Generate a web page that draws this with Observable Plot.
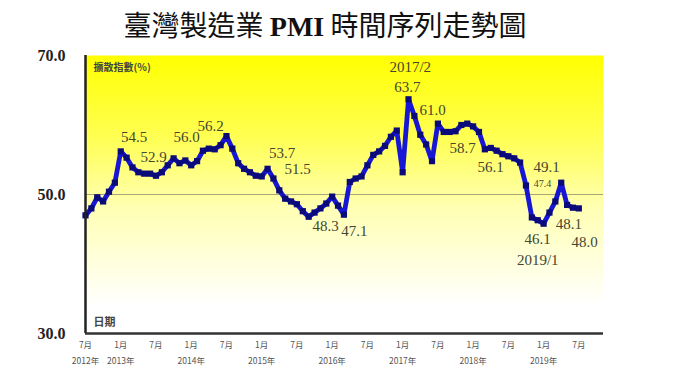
<!DOCTYPE html>
<html><head><meta charset="utf-8">
<script src="https://cdn.jsdelivr.net/npm/d3@7"></script>
<script src="https://cdn.jsdelivr.net/npm/@observablehq/plot@0.6"></script>
<style>
body{margin:0;background:#fff;width:680px;height:383px;overflow:hidden}
#title{height:40px;width:680px;position:relative}
#title .t{position:absolute;left:0;right:30px;top:7px;text-align:center;font-size:28px;line-height:34px;color:#111;font-family:"Noto Sans CJK TC",sans-serif}
#title b{font-family:"Liberation Serif",serif;font-weight:bold}
#chart svg{display:block}
</style></head><body>
<div id="title"><div class="t">臺灣製造業 <b>PMI</b> 時間序列走勢圖</div></div>
<div id="chart"></div>
<script>
// Monthly PMI, July 2012 (index 0) .. July 2019 (index 84)
const pmi = [
 47.0,48.0,49.6,49.0,50.4,51.7,
 56.2,55.3,53.9,53.2,53.0,53.0,52.7,53.2,54.2,55.2,54.5,54.9,
 54.2,54.8,56.3,56.6,56.5,57.1,58.4,56.6,54.5,53.7,53.2,52.7,
 52.6,53.7,52.3,50.6,49.4,49.0,48.6,47.6,46.8,47.4,48.0,48.7,
 49.7,48.4,47.1,51.8,52.3,52.6,54.2,55.7,56.2,57.0,58.3,59.2,
 53.2,63.7,61.3,58.6,57.2,54.8,60.2,59.0,59.0,59.1,60.0,60.2,
 59.8,59.0,56.5,56.7,56.3,55.8,55.5,55.2,54.6,51.3,46.7,46.3,
 45.8,47.4,49.0,51.7,48.5,48.1,48.0
];
const yTicks = [30, 50, 70];
const tickMonths = [0,6,12,18,24,30,36,42,48,54,60,66,72,78,84];
const tickLabels = ["7月","1月","7月","1月","7月","1月","7月","1月","7月","1月","7月","1月","7月","1月","7月"];
const yearMonths = [0,6,18,30,42,54,66,78];
const yearLabels = ["2012年","2013年","2014年","2015年","2016年","2017年","2018年","2019年"];
// annotations (month index, value position, text)
const labelM = [8.3,11.6,17.2,21.3,33.5,36.1,40.9,45.8,55.3,54.8,59.1,64.2,69.0,78.5,77.0,82.3,85.0,77.0];
const labelV = [58.2,55.3,58.2,59.8,56.0,53.6,45.4,44.7,68.3,65.5,62.2,56.6,53.9,53.9,43.5,45.7,43.2,40.5];
const labelText = ["54.5","52.9","56.0","56.2","53.7","51.5","48.3","47.1","2017/2","63.7","61.0","58.7","56.1","49.1","46.1","48.1","48.0","2019/1"];
const smallLabelM = [77.8], smallLabelV = [51.5], smallLabelText = ["47.4"];

const idx = pmi.map((d,i)=>i);
const labels = labelText.map((t,i)=>({m:labelM[i], v:labelV[i], t}));
const small = smallLabelText.map((t,i)=>({m:smallLabelM[i], v:smallLabelV[i], t}));

const plot = Plot.plot({
  width: 680, height: 343,
  marginLeft: 85, marginRight: 77, marginTop: 15, marginBottom: 50,
  x: {domain: [0, 88.2], axis: null},
  y: {domain: [30, 70], axis: null},
  style: {background: "transparent"},
  marks: [
    Plot.frame({fill: "url(#bgGrad)", stroke: "none"}),
    Plot.ruleY([50], {stroke: "#a9a77a", strokeWidth: 1}),
    Plot.line(idx, {x: i=>i, y: i=>pmi[i], stroke: "#1616d4", strokeWidth: 4.8, strokeLinejoin: "round"}),
    Plot.dot(idx, {x: i=>i, y: i=>pmi[i], symbol: "square", r: 3.5, fill: "#0a0a78", stroke: "none"}),
    Plot.ruleX([0], {stroke: "#222", strokeWidth: 2.5}),
    Plot.ruleY([30], {stroke: "#333", strokeWidth: 2.5}),
    Plot.text(yTicks, {y: d=>d, frameAnchor: "left", textAnchor: "end", dx: -20, text: d=>d.toFixed(1),
      fontSize: 16, fontWeight: "bold", fontFamily: "Liberation Serif", fill: "#222"}),
    Plot.text(tickMonths, {x: d=>d, frameAnchor: "bottom", dy: 14, text: (d,i)=>tickLabels[i],
      fontSize: 8.5, fontFamily: "Noto Sans CJK TC", fill: "#555"}),
    Plot.text(yearMonths, {x: d=>d, frameAnchor: "bottom", dy: 30, text: (d,i)=>yearLabels[i],
      fontSize: 8.5, fontFamily: "Noto Sans CJK TC", fill: "#555"}),
    Plot.text(labels, {x: "m", y: "v", text: "t", fontSize: 15, fontFamily: "Liberation Serif", fill: "#46452f"}),
    Plot.text(small, {x: "m", y: "v", text: "t", fontSize: 10, fontFamily: "Liberation Serif", fill: "#46452f"}),
    Plot.text(["擴散指數(%)"], {frameAnchor: "top-left", dx: 8, dy: 8, fontSize: 10, fontWeight: "bold",
      fontFamily: "Noto Sans CJK TC", fill: "#444"}),
    Plot.text(["日期"], {frameAnchor: "bottom-left", dx: 8, dy: -8, fontSize: 11, fontWeight: "bold",
      fontFamily: "Noto Sans CJK TC", fill: "#444"})
  ]
});
const defs = d3.select(plot).insert("defs", ":first-child");
const grad = defs.append("linearGradient").attr("id", "bgGrad")
  .attr("x1", 0).attr("y1", 0).attr("x2", 0).attr("y2", 1);
grad.append("stop").attr("offset", "0%").attr("stop-color", "#ffff00");
grad.append("stop").attr("offset", "30%").attr("stop-color", "#ffff55");
grad.append("stop").attr("offset", "55%").attr("stop-color", "#ffffb4");
grad.append("stop").attr("offset", "90%").attr("stop-color", "#ffffff");
grad.append("stop").attr("offset", "100%").attr("stop-color", "#ffffff");
document.getElementById("chart").appendChild(plot);
</script>
</body></html>
